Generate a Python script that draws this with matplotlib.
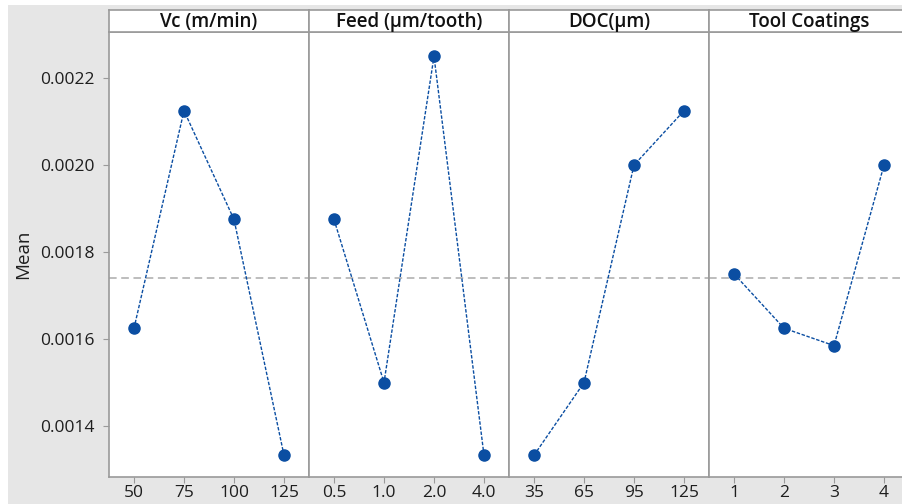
import matplotlib.pyplot as plt
from matplotlib.patches import Rectangle

# Main effects data (means)
factors = ['Vc (m/min)', 'Feed (µm/tooth)', 'DOC(µm)', 'Tool Coatings']
levels = [['50', '75', '100', '125'],
          ['0.5', '1.0', '2.0', '4.0'],
          ['35', '65', '95', '125'],
          ['1', '2', '3', '4']]
vc_means = [0.001625, 0.002125, 0.001875, 0.001333]
feed_means = [0.001875, 0.001500, 0.002250, 0.001333]
doc_means = [0.001333, 0.001500, 0.002000, 0.002125]
coating_means = [0.001750, 0.001625, 0.001585, 0.002000]
grand_mean = 0.00174
yticks = [0.0014, 0.0016, 0.0018, 0.0020, 0.0022]

all_means = [vc_means, feed_means, doc_means, coating_means]

plt.rcParams['font.family'] = ['Open Sans', 'DejaVu Sans']

W, H = 902, 504
fig = plt.figure(figsize=(W / 100, H / 100), dpi=100, facecolor='white')
# grey backdrop with a thin white margin at top and left
fig.patches.append(Rectangle((8 / W, 0), 1, 1 - 5 / H, transform=fig.transFigure,
                             facecolor='#e6e6e6', edgecolor='none', zorder=-10))

left, pw = 109 / W, 200 / W
bottom, ph = 1 - 477 / H, (477 - 32) / H
sh = 22 / H
edge = '#9a9a9a'
blue = '#0b4ea2'
txt = '#1e1e1e'

for i, (name, labs, means) in enumerate(zip(factors, levels, all_means)):
    x0 = left + i * pw
    ax = fig.add_axes([x0, bottom, pw, ph])
    ax.set_facecolor('white')
    xs = range(len(labs))
    ax.plot(xs, means, color=blue, lw=1.0, ls=(0, (2.5, 1.2)), zorder=3)
    ax.plot(xs, means, 'o', color=blue, ms=8, zorder=4)
    ax.axhline(grand_mean, color='#ababab', lw=1.1, ls=(0, (5, 3)), zorder=2)
    ax.set_xlim(-0.5, 3.5)
    ax.set_ylim(0.001283, 0.002306)
    ax.set_xticks(list(xs))
    ax.set_xticklabels(labs, fontsize=12.5, color=txt)
    ax.set_yticks(yticks)
    if i == 0:
        ax.set_yticklabels([f'{v:.4f}' for v in yticks], fontsize=12.5, color=txt)
        ax.set_ylabel('Mean', fontsize=13.5, color=txt, labelpad=6)
        ax.tick_params(axis='y', length=4, color=edge, pad=6)
    else:
        ax.tick_params(axis='y', length=0, labelleft=False)
    ax.tick_params(axis='x', length=4, color=edge, pad=2)
    for s in ax.spines.values():
        s.set_color(edge)
        s.set_linewidth(1.2)

    sax = fig.add_axes([x0, bottom + ph, pw, sh])
    sax.set_facecolor('white')
    sax.set_xticks([])
    sax.set_yticks([])
    for s in sax.spines.values():
        s.set_color(edge)
        s.set_linewidth(1.2)
    sax.text(0.5, 0.45, name, ha='center', va='center', fontsize=13.5,
             fontweight='semibold', color='#111111', transform=sax.transAxes)

fig.savefig('out.png', dpi=100, facecolor=fig.get_facecolor())
